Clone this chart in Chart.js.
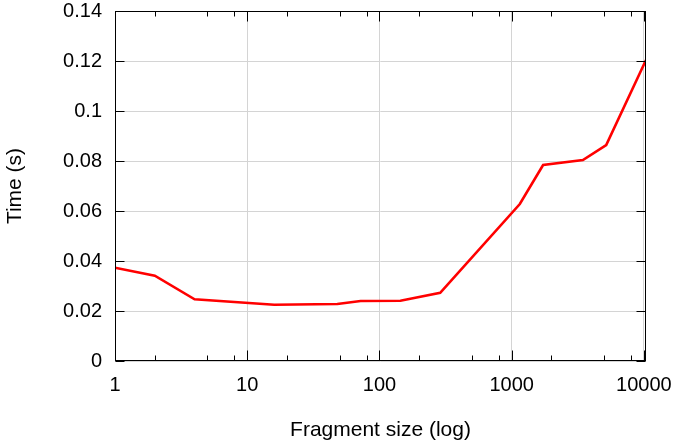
<!DOCTYPE html>
<html>
<head>
<meta charset="utf-8">
<script src="https://cdn.jsdelivr.net/npm/chart.js@4"></script>
<style>
  html, body { margin: 0; padding: 0; background: #fff; }
  #wrap { width: 677px; height: 445px; }
</style>
</head>
<body>
<div id="wrap"><canvas id="c" width="677" height="445"></canvas></div>
<script>
// Data
const fragmentSizes = [1, 2, 4, 16, 48, 72, 144, 288, 1152, 1728, 3456, 5184, 10368];
const timeSeconds   = [0.0373, 0.0341, 0.0247, 0.0225, 0.0228, 0.0240, 0.0241, 0.0273, 0.0628, 0.0784, 0.0804, 0.0864, 0.1204];
const xMajorTicks = [1, 10, 100, 1000, 10000];
const xMinorTicks = [2, 5, 8, 20, 50, 80, 200, 500, 800, 2000, 5000, 8000];
const yTicks = [0, 0.02, 0.04, 0.06, 0.08, 0.1, 0.12, 0.14];

const FONT = 'Liberation Sans, Arial, Helvetica, sans-serif';
const GRID = '#d4d4d4';

const framePlugin = {
  id: 'frame',
  afterDraw(chart) {
    const ctx = chart.ctx;
    const a = chart.chartArea;
    const xs = chart.scales.x, ys = chart.scales.y;
    ctx.save();
    ctx.strokeStyle = '#000';
    ctx.lineWidth = 1;
    ctx.beginPath();
    const L = Math.round(a.left) + 0.5, R = Math.round(a.right) - 0.5;
    const T = Math.round(a.top) + 0.5, B = Math.round(a.bottom) - 0.5;
    yTicks.forEach(v => {
      const y = Math.round(ys.getPixelForValue(v)) + 0.5;
      ctx.moveTo(L, y); ctx.lineTo(L + 9, y);
      ctx.moveTo(R, y); ctx.lineTo(R - 9, y);
    });
    const xt = (v, len) => {
      const x = Math.round(xs.getPixelForValue(v)) + 0.5;
      ctx.moveTo(x, B); ctx.lineTo(x, B - len);
      ctx.moveTo(x, T); ctx.lineTo(x, T + len);
    };
    xMajorTicks.forEach(v => xt(v, 10));
    xMinorTicks.forEach(v => xt(v, 5));
    ctx.stroke();
    ctx.strokeRect(L, T, R - L, B - T);
    ctx.restore();
  }
};

new Chart(document.getElementById('c'), {
  type: 'line',
  data: {
    datasets: [{
      data: fragmentSizes.map((x, i) => ({ x: x, y: timeSeconds[i] })),
      borderColor: '#ff0000',
      borderWidth: 2.6,
      pointRadius: 0,
      tension: 0,
      fill: false
    }]
  },
  options: {
    responsive: false,
    animation: false,
    layout: { padding: { left: 0, right: 31, top: 11, bottom: 0 } },
    plugins: { legend: { display: false }, tooltip: { enabled: false } },
    scales: {
      x: {
        type: 'logarithmic',
        min: 1,
        max: 10368,
        afterBuildTicks(scale) {
          scale.ticks = xMajorTicks.map(v => ({ value: v, major: true }));
        },
        afterFit(scale) { scale.height = 84; scale.paddingLeft = 0; scale.paddingRight = 0; },
        ticks: {
          autoSkip: false,
          maxRotation: 0,
          padding: 12,
          color: '#000',
          font: { family: FONT, size: 20 },
          callback: v => String(v)
        },
        grid: { color: GRID, lineWidth: 1, drawTicks: false },
        border: { display: false },
        title: {
          display: true,
          text: 'Fragment size (log)',
          color: '#000',
          font: { family: FONT, size: 21 },
          padding: { top: 0, bottom: 2 }
        }
      },
      y: {
        type: 'linear',
        min: 0,
        max: 0.14,
        afterBuildTicks(scale) {
          scale.ticks = yTicks.map(v => ({ value: v }));
        },
        afterFit(scale) { scale.width = 115; scale.paddingTop = 0; scale.paddingBottom = 0; },
        ticks: {
          padding: 13,
          color: '#000',
          font: { family: FONT, size: 20 },
          callback: v => String(Math.round(v * 100) / 100)
        },
        grid: { color: GRID, lineWidth: 1, drawTicks: false },
        border: { display: false },
        title: {
          display: true,
          text: 'Time (s)',
          color: '#000',
          font: { family: FONT, size: 21 },
          padding: { top: 3, bottom: 0 }
        }
      }
    }
  },
  plugins: [framePlugin]
});
</script>
</body>
</html>
